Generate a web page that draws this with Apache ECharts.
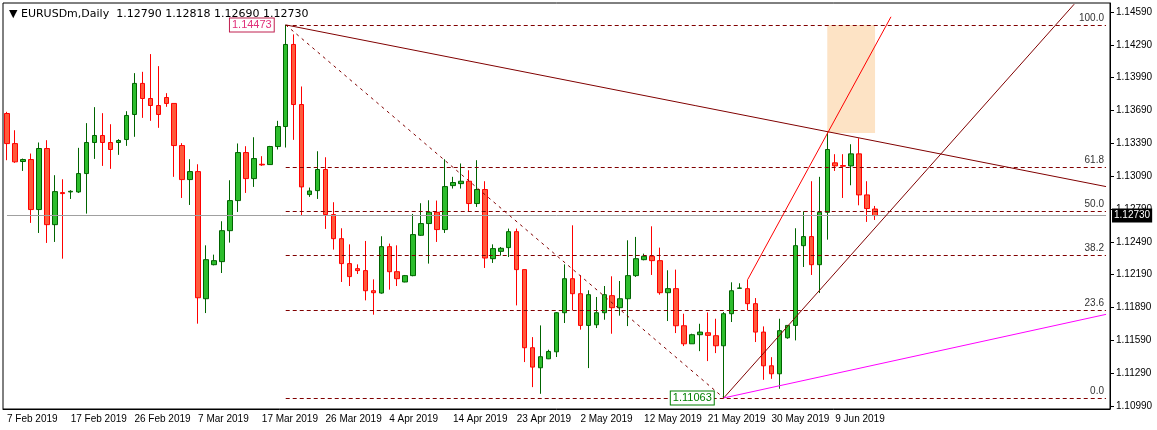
<!DOCTYPE html>
<html style="height: 100%">
<head>
    <meta charset="utf-8">
    <script src="https://cdn.jsdelivr.net/npm/echarts@6/dist/echarts.min.js"></script>
</head>
<body style="height: 100%; margin: 0; background: #fff">
<div id="main" style="width: 1157px; height: 430px;"></div>
<script type="text/javascript">

    // daily candles, bar 0 .. 109
    const opens = [1.13663,1.13388,1.13224,1.13242,1.12785,1.13343,1.12647,1.12940,1.12946,1.12946,
        1.13114,1.13398,1.13462,1.13398,1.13398,1.13425,1.13654,1.13938,1.13800,1.13736,
        1.13809,1.13755,1.13370,1.13059,1.13132,1.11970,1.12281,1.12309,1.12592,1.12867,
        1.13306,1.13068,1.13199,1.13196,1.13361,1.13544,1.14294,1.13745,1.12922,1.12958,
        1.13151,1.12739,1.12519,1.12291,1.12245,1.12227,1.12043,1.12022,1.12446,1.12217,
        1.12123,1.12181,1.12550,1.12657,1.12760,1.12602,1.13004,1.13022,1.13044,1.12840,
        1.12968,1.12336,1.12403,1.12437,1.12583,1.12236,1.11522,1.11339,1.11421,1.11485,
        1.11842,1.12153,1.12016,1.11726,1.11732,1.11842,1.11998,1.11888,1.11970,1.12181,
        1.12327,1.12358,1.12318,1.12025,1.12062,1.11723,1.11558,1.11641,1.11659,1.11632,
        1.11540,1.11833,1.12065,1.12062,1.11925,1.11665,1.11357,1.11284,1.11613,1.11726,
        1.12455,1.12538,1.12281,1.12760,1.13212,1.13187,1.13184,1.13294,1.12919,1.12790];
    const closes = [1.13388,1.13221,1.13242,1.12785,1.13343,1.12647,1.12949,1.12931,1.12952,1.13114,
        1.13398,1.13462,1.13398,1.13334,1.13416,1.13645,1.13938,1.13800,1.13736,1.13654,
        1.13755,1.13370,1.13059,1.13132,1.11979,1.12327,1.12318,1.12592,1.12867,1.13306,
        1.13068,1.13251,1.13193,1.13361,1.13544,1.14294,1.13745,1.12992,1.12955,1.13151,
        1.12739,1.12519,1.12291,1.12172,1.12227,1.12043,1.12025,1.12446,1.12217,1.12153,
        1.12181,1.12556,1.12657,1.12760,1.12602,1.12995,1.13032,1.13044,1.12840,1.12968,
        1.12342,1.12428,1.12431,1.12583,1.12236,1.11522,1.11345,1.11440,1.11488,1.11842,
        1.12153,1.12016,1.11726,1.12007,1.11842,1.12007,1.11888,1.11970,1.12181,1.12336,
        1.12358,1.12318,1.12025,1.12062,1.11723,1.11558,1.11641,1.11665,1.11635,1.11540,
        1.11833,1.12043,1.12068,1.11925,1.11665,1.11357,1.11284,1.11678,1.11726,1.12455,
        1.12538,1.12281,1.12760,1.13334,1.13184,1.13181,1.13294,1.12919,1.12794,1.12730];
    const lows = [1.13236,1.13212,1.13138,1.12663,1.12571,1.12480,1.12489,1.12336,1.12882,1.12937,
        1.12748,1.13248,1.13184,1.13157,1.13285,1.13367,1.13450,1.13623,1.13596,1.13532,
        1.13724,1.13084,1.12891,1.12827,1.11742,1.11839,1.12275,1.12205,1.12483,1.12763,
        1.12937,1.12992,1.13184,1.13196,1.13334,1.13352,1.13422,1.12730,1.12901,1.12882,
        1.12608,1.12419,1.12123,1.12086,1.12196,1.11955,1.11824,1.12016,1.12053,1.12086,
        1.12120,1.12175,1.12544,1.12291,1.12489,1.12571,1.12977,1.12977,1.12772,1.12809,
        1.12251,1.12297,1.12364,1.12351,1.11909,1.11391,1.11162,1.11101,1.11418,1.11437,
        1.11748,1.11864,1.11687,1.11336,1.11702,1.11778,1.11650,1.11815,1.11720,1.12169,
        1.12321,1.12187,1.12007,1.11766,1.11656,1.11537,1.11558,1.11491,1.11400,1.11473,
        1.11063,1.11757,1.12065,1.11864,1.11574,1.11229,1.11238,1.11147,1.11604,1.11589,
        1.12260,1.12187,1.12022,1.12510,1.13138,1.12891,1.13007,1.12824,1.12672,1.12690];
    const highs = [1.13678,1.13510,1.13251,1.13297,1.13398,1.13419,1.13099,1.13062,1.12962,1.13349,
        1.13575,1.13721,1.13666,1.13565,1.13428,1.13684,1.14032,1.14044,1.14206,1.14096,
        1.13849,1.13755,1.13392,1.13245,1.13199,1.12458,1.12373,1.12678,1.13053,1.13389,
        1.13364,1.13446,1.13273,1.13367,1.13596,1.14473,1.14386,1.13910,1.12986,1.13318,
        1.13263,1.12852,1.12614,1.12467,1.12284,1.12498,1.12147,1.12541,1.12474,1.12458,
        1.12187,1.12745,1.12843,1.12870,1.12867,1.13245,1.13084,1.13206,1.13144,1.13236,
        1.13044,1.12467,1.12443,1.12611,1.12611,1.12236,1.11619,1.11726,1.11504,1.11848,
        1.12284,1.12641,1.12184,1.12047,1.11986,1.12086,1.12175,1.12132,1.12504,1.12535,
        1.12382,1.12632,1.12437,1.12230,1.12236,1.11833,1.11650,1.11741,1.11845,1.11787,
        1.11848,1.12120,1.12111,1.12144,1.11976,1.11717,1.11436,1.11787,1.11726,1.12614,
        1.12769,1.13044,1.13084,1.13489,1.13291,1.13291,1.13382,1.13437,1.13044,1.12818];

    const dateLabels = {0:'7 Feb 2019', 8:'17 Feb 2019', 16:'26 Feb 2019', 24:'7 Mar 2019', 32:'17 Mar 2019',
        40:'26 Mar 2019', 48:'4 Apr 2019', 56:'14 Apr 2019', 64:'23 Apr 2019', 72:'2 May 2019',
        80:'12 May 2019', 88:'21 May 2019', 96:'30 May 2019', 104:'9 Jun 2019'};
    const priceTicks = [1.10990,1.11290,1.11590,1.11890,1.12190,1.12490,1.12790,1.13090,1.13390,1.13690,1.13990,1.14290,1.14590];

    const swingHigh = 1.14473, swingLow = 1.11063, lastPrice = 1.12730;
    const fibLevels = [0.0, 23.6, 38.2, 50.0, 61.8, 100.0];
    const totalSlots = 139;

    let cats = [];
    for (let i = 0; i < totalSlots; i++) cats.push(String(i));
    let candles = [];
    for (let i = 0; i < opens.length; i++) candles.push([opens[i], closes[i], lows[i], highs[i]]);

    function seg(p1, p2, color, width, type) {
        return [{coord: p1, lineStyle: {color: color, width: width, type: type}}, {coord: p2}];
    }

    let lines = [
        seg([0, lastPrice], [138, lastPrice], '#a0a0a0', 1, 'solid'),
        seg([35, swingHigh], [90, swingLow], '#800000', 1, [3, 4]),
        seg([35, swingHigh], [138, 1.12995], '#800000', 1, 'solid'),
        seg([93, 1.12144], [111, 1.14547], '#ff0000', 1, 'solid'),
        seg([90, swingLow], [134, 1.14662], '#800000', 1, 'solid'),
        seg([90, swingLow], [138, 1.11827], '#ff00ff', 1, 'solid')
    ];
    fibLevels.forEach(function (f) {
        let p = swingLow + (swingHigh - swingLow) * f / 100;
        lines.push([{coord: [35, p], lineStyle: {color: '#800000', width: 1, type: [4, 3]},
            label: {show: true, position: 'insideEndTop', formatter: f.toFixed(1), color: '#333', fontSize: 10, distance: 2}},
            {coord: [138, p]}]);
    });

    let chart = echarts.init(document.getElementById('main'));
    chart.setOption({
        animation: false,
        title: {text: '\u25BC EURUSDm,Daily  1.12790 1.12818 1.12690 1.12730', left: 4, top: 4,
            textStyle: {fontSize: 11, fontWeight: 'normal', color: '#000', fontFamily: 'DejaVu Sans'}},
        grid: {left: 3, right: 47, top: 3, bottom: 21, show: true, borderColor: '#000', borderWidth: 1},
        xAxis: {
            type: 'category', data: cats, boundaryGap: true,
            axisLine: {lineStyle: {color: '#000'}},
            axisTick: {alignWithLabel: true, length: 4, interval: function (i) { return dateLabels[i] !== undefined; }, lineStyle: {color: '#000'}},
            axisLabel: {
                interval: function (i) { return dateLabels[i] !== undefined; },
                formatter: function (v, i) { return dateLabels[i] || ''; },
                hideOverlap: false, showMaxLabel: true,
                align: 'left', margin: 5, color: '#000', fontSize: 10, fontFamily: 'Liberation Sans'
            },
            splitLine: {show: false}
        },
        yAxis: {
            type: 'value', position: 'right', min: 1.10962, max: 1.14673, scale: true,
            axisLine: {show: true, lineStyle: {color: '#000'}},
            axisTick: {show: true, length: 4, customValues: priceTicks, lineStyle: {color: '#000'}},
            axisLabel: {customValues: priceTicks, formatter: function (v) { return v.toFixed(5); },
                color: '#000', fontSize: 10, fontFamily: 'Liberation Sans', margin: 6},
            splitLine: {show: false}
        },
        series: [{
            type: 'candlestick',
            data: candles,
            barWidth: 5,
            itemStyle: {color: '#2dbd2d', borderColor: '#006400', color0: '#ff5a3c', borderColor0: '#ff0000', borderWidth: 1},
            markArea: {silent: true, itemStyle: {color: '#fde3c5'},
                data: [[{coord: [103, swingHigh]}, {coord: [109, 1.13485]}]]},
            markLine: {silent: true, symbol: 'none', animation: false, data: lines},
            markPoint: {silent: true, symbol: 'rect', symbolSize: 0, data: [
                {coord: [35, swingHigh], label: {show: true, formatter: '1.14473', position: 'left', distance: 12,
                    color: '#e0307a', backgroundColor: '#fff', borderColor: '#c02050', borderWidth: 1, padding: [1, 2], fontSize: 11}},
                {coord: [90, swingLow], label: {show: true, formatter: '1.11063', position: 'left', distance: 10,
                    color: '#008000', backgroundColor: '#fff', borderColor: '#008000', borderWidth: 1, padding: [1, 2], fontSize: 11}},
                {coord: [138, lastPrice], label: {show: true, formatter: '1.12730', position: 'right', distance: 6,
                    color: '#fff', backgroundColor: '#000', padding: [2, 2], fontSize: 10}}
            ]}
        }]
    });
</script>
</body>
</html>
